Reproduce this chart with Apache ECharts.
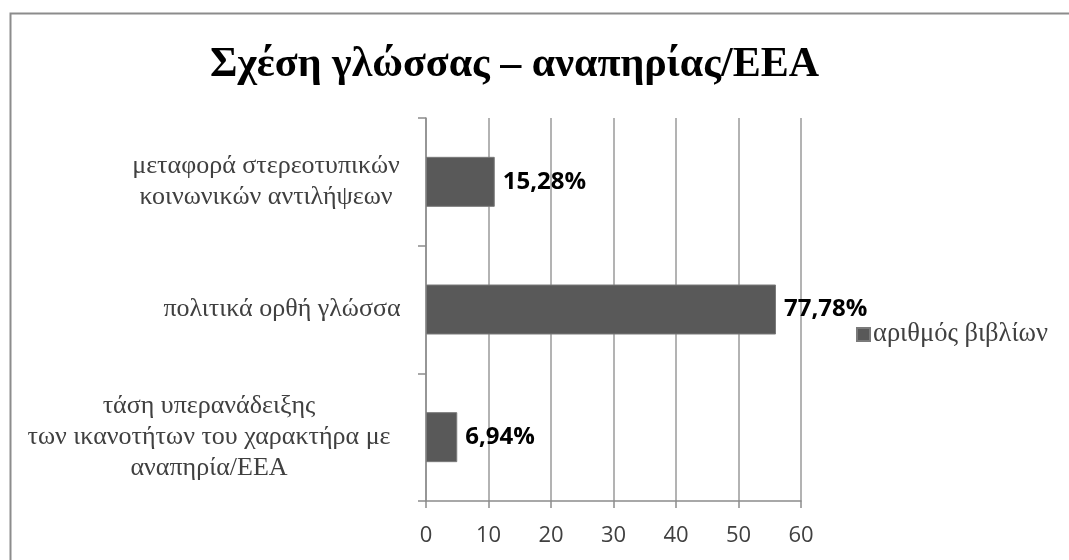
<!DOCTYPE html>
<html>
<head>
<meta charset="utf-8">
<script src="https://cdn.jsdelivr.net/npm/echarts@6/dist/echarts.min.js"></script>
<style>
html,body{margin:0;padding:0;background:#fff;}
#c{width:1069px;height:560px;}
</style>
</head>
<body>
<div id="c"></div>
<script>
// Data (bottom category first, as ECharts draws category y-axes bottom-up)
var categories = [
  "τάση υπερανάδειξης\nτων ικανοτήτων του χαρακτήρα με\nαναπηρία/ΕΕΑ",
  "πολιτικά ορθή γλώσσα",
  "μεταφορά στερεοτυπικών\nκοινωνικών αντιλήψεων"
];
var bookCounts = [5, 56, 11];
var percentLabels = ["6,94%", "77,78%", "15,28%"];
var xTicks = [0, 10, 20, 30, 40, 50, 60];
var seriesName = "αριθμός βιβλίων";
var titleText = "Σχέση γλώσσας – αναπηρίας/ΕΕΑ";

var labelShifts = [146, 0, 32];

var chart = echarts.init(document.getElementById('c'), null, {renderer: 'canvas'});
chart.setOption({
  animation: false,
  backgroundColor: '#ffffff',
  graphic: [{
    type: 'rect', left: 8, top: 11, silent: true,
    shape: {width: 1100, height: 600},
    style: {fill: 'none', stroke: '#8c8c8c', lineWidth: 2}
  }],
  title: {
    text: titleText,
    left: 205, top: 39,
    textStyle: {fontFamily: 'Liberation Serif', fontWeight: 'bold', fontSize: 42, color: '#000'}
  },
  legend: {
    data: [seriesName],
    left: 851, top: 316,
    itemWidth: 13, itemHeight: 13, itemGap: 5,
    icon: 'rect',
    textStyle: {fontFamily: 'Liberation Serif', fontSize: 26.5, color: '#404040', padding: [0,0,0,-2]}
  },
  grid: {left: 426, top: 118, width: 375, height: 383, containLabel: false, outerBoundsMode: 'none'},
  xAxis: {
    type: 'value', min: xTicks[0], max: xTicks[xTicks.length-1], interval: 10,
    axisLine: {show: true, lineStyle: {color: '#8c8c8c', width: 1.5}},
    axisTick: {show: true, length: 7, lineStyle: {color: '#8c8c8c', width: 1.5}},
    splitLine: {show: true, lineStyle: {color: '#9a9a9a', width: 1.5}},
    axisLabel: {fontFamily: 'Open Sans', fontSize: 22, color: '#404040', margin: 24}
  },
  yAxis: {
    type: 'category',
    data: categories.map(function(c, i){
      return {value: c, textStyle: {
        align: 'center', padding: [0, labelShifts[i], 0, 0],
        fontFamily: 'Liberation Serif', fontSize: 26, color: '#404040', lineHeight: 31
      }};
    }),
    axisLine: {show: true, lineStyle: {color: '#8c8c8c', width: 1.5}},
    axisTick: {show: true, length: 8, lineStyle: {color: '#8c8c8c', width: 1.5}},
    axisLabel: {
      fontFamily: 'Liberation Serif', fontSize: 26, color: '#404040',
      lineHeight: 31, align: 'center', margin: 144
    }
  },
  series: [{
    name: seriesName,
    type: 'bar',
    data: bookCounts,
    barWidth: 50,
    itemStyle: {color: '#595959', borderColor: '#7a7a7a', borderWidth: 1},
    label: {
      show: true, position: 'right', distance: 8,
      formatter: function(p){ return percentLabels[p.dataIndex]; },
      fontFamily: 'Open Sans', fontWeight: 'bold', fontSize: 24, color: '#000'
    }
  }]
});
</script>
</body>
</html>
